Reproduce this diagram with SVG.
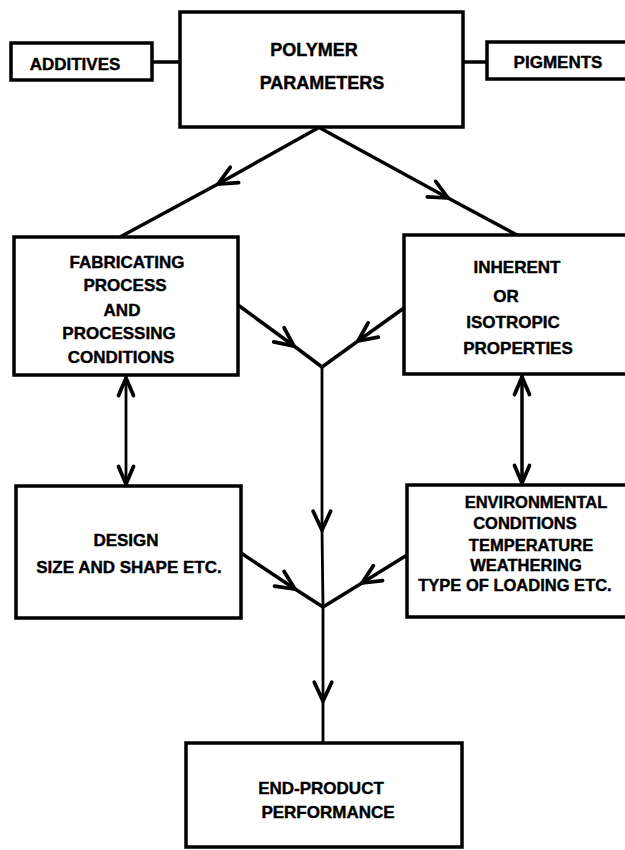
<svg xmlns="http://www.w3.org/2000/svg" width="625" height="850" viewBox="0 0 625 850">
<style>
.box{fill:#fff;stroke:#000;stroke-width:3.5}
.t{font-family:"Liberation Sans",Arial,sans-serif;font-weight:bold;font-size:17px;text-anchor:middle;fill:#000;stroke:#000;stroke-width:0.4}
.big{font-size:18px}
.env{font-size:16.5px}
.ln{fill:none;stroke:#000;stroke-width:3.5;stroke-linecap:round;stroke-linejoin:round}
.thin{stroke-width:2.8}
</style>
<defs>
<marker id="ah" markerUnits="userSpaceOnUse" markerWidth="30" markerHeight="30" refX="0" refY="0" viewBox="-20 -10 24 20" orient="auto" overflow="visible">
<path d="M-15,-7 L0,0 L-15,7" fill="none" stroke="#000" stroke-width="3" stroke-linecap="round" stroke-linejoin="miter"/>
</marker>
<marker id="ahs" markerUnits="userSpaceOnUse" markerWidth="30" markerHeight="30" refX="0" refY="0" viewBox="-20 -10 24 20" orient="auto-start-reverse" overflow="visible">
<path d="M-14,-6 L0,0 L-14,6" fill="none" stroke="#000" stroke-width="3" stroke-linecap="round" stroke-linejoin="miter"/>
</marker>
</defs>
<rect width="625" height="850" fill="#fff"/>
<g id="connectors">
<line class="ln" x1="152" y1="62" x2="180" y2="62"/>
<line class="ln" x1="463" y1="62" x2="487" y2="62"/>
<path class="ln" d="M318,128 L218,184 L120,237" marker-mid="url(#ah)"/>
<path class="ln" d="M320,128 L448,198 L517,235" marker-mid="url(#ah)"/>
<path class="ln" d="M238,305 L294,346 L322,367" marker-mid="url(#ah)"/>
<path class="ln" d="M404,308 L358,341 L322,367" marker-mid="url(#ah)"/>
<path class="ln thin" d="M322,367 L322,530 L323,607" marker-mid="url(#ah)"/>
<path class="ln" d="M241,553 L295,589 L323,607" marker-mid="url(#ah)"/>
<path class="ln" d="M407,555 L362,583 L323,607" marker-mid="url(#ah)"/>
<path class="ln thin" d="M323,607 L323,701 L323,743" marker-mid="url(#ah)"/>
<line class="ln thin" x1="126" y1="378" x2="126" y2="484" marker-start="url(#ahs)" marker-end="url(#ahs)"/>
<line class="ln" x1="522" y1="377" x2="522" y2="483" marker-start="url(#ahs)" marker-end="url(#ahs)"/>
</g>
<g id="polymer">
<rect class="box" x="180" y="12" width="283" height="115"/>
<text class="t big" x="314" y="56">POLYMER</text>
<text class="t big" x="322" y="89">PARAMETERS</text>
</g>
<g id="additives">
<rect class="box" x="11" y="43" width="141" height="37"/>
<text class="t" x="75" y="70">ADDITIVES</text>
</g>
<g id="pigments">
<rect class="box" x="487" y="42" width="160" height="37"/>
<text class="t" x="558" y="68">PIGMENTS</text>
</g>
<g id="fabricating">
<rect class="box" x="14" y="237" width="224" height="138"/>
<text class="t" x="127" y="268">FABRICATING</text>
<text class="t" x="125" y="291">PROCESS</text>
<text class="t" x="122" y="316">AND</text>
<text class="t" x="119" y="339">PROCESSING</text>
<text class="t" x="121" y="363">CONDITIONS</text>
</g>
<g id="inherent">
<rect class="box" x="404" y="235" width="240" height="139"/>
<text class="t" x="517" y="273">INHERENT</text>
<text class="t" x="506" y="302">OR</text>
<text class="t" x="513" y="328">ISOTROPIC</text>
<text class="t" x="518" y="354">PROPERTIES</text>
</g>
<g id="design">
<rect class="box" x="16" y="486" width="225" height="132"/>
<text class="t" x="126" y="546">DESIGN</text>
<text class="t" x="129" y="573">SIZE AND SHAPE ETC.</text>
</g>
<g id="environmental">
<rect class="box" x="407" y="485" width="240" height="132"/>
<text class="t env" x="536" y="508">ENVIRONMENTAL</text>
<text class="t env" x="525" y="529">CONDITIONS</text>
<text class="t env" x="531" y="551">TEMPERATURE</text>
<text class="t env" x="526" y="571">WEATHERING</text>
<text class="t env" x="515" y="591">TYPE OF LOADING ETC.</text>
</g>
<g id="endproduct">
<rect class="box" x="186" y="743" width="276" height="104"/>
<text class="t" x="321" y="794">END-PRODUCT</text>
<text class="t" x="328" y="818">PERFORMANCE</text>
</g>
</svg>
